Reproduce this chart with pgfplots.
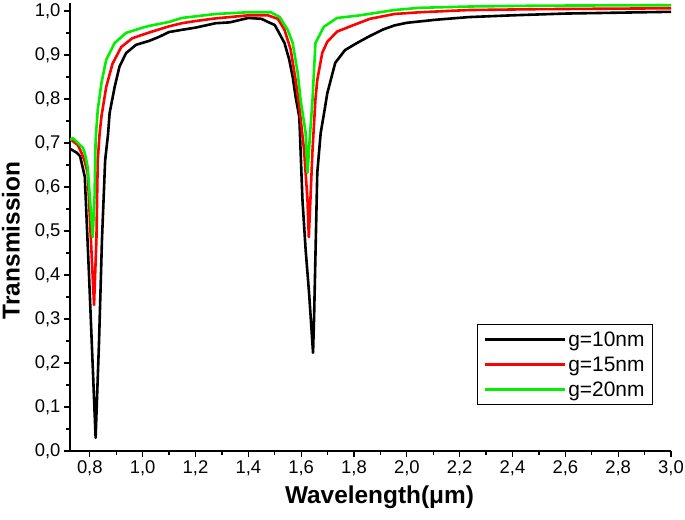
\documentclass[border=0pt]{standalone}
\usepackage{pgfplots}
\pgfplotsset{compat=1.18}
\usepackage{fontspec}
\setmainfont{Liberation Sans}
\definecolor{cgreen}{RGB}{0,240,0}
\definecolor{cred}{RGB}{255,0,0}
\begin{document}
\begin{tikzpicture}
\useasboundingbox (-70bp,-69bp) rectangle (615bp,451bp);
\begin{axis}[
  scale only axis,
  width=601bp, height=448bp,
  xmin=0.725, xmax=3.0,
  ymin=0, ymax=1.018,
  axis x line=bottom, axis y line=left,
  axis line style={-, line width=1.6bp},
  xtick={0.8,1.0,...,3.01},
  ytick={0,0.1,...,1.01},
  minor x tick num=1, minor y tick num=1,
  tick align=outside,
  major tick length=6bp, minor tick length=3.5bp,
  every tick/.style={line width=1.3bp, black},
  /pgf/number format/.cd, use comma, fixed, fixed zerofill, precision=1, assume math mode=true,
  /pgfplots/.cd,
  tick label style={font=\fontsize{18.5}{21}\selectfont},
  xlabel={\bfseries Wavelength(μm)},
  ylabel={\bfseries Transmission},
  every axis x label/.style={at={(rel axis cs:0.515,0)}, anchor=north, yshift=-31bp,
    font=\fontsize{24.5}{27}\selectfont},
  every axis y label/.style={at={(rel axis cs:0,0.47)}, anchor=center, rotate=90, yshift=59bp,
    font=\fontsize{24.5}{27}\selectfont},
  legend style={at={(rel axis cs:0.97,0.283)}, anchor=north east, draw=black, line width=0.9bp,
    font=\fontsize{21}{24}\selectfont, inner xsep=6bp, inner ysep=5bp, row sep=5bp},
  legend cell align=left,
  legend image code/.code={\draw[#1, line width=2.8bp] (0bp,0bp) -- (80bp,0bp);},
]
\addplot[black, line width=2.6bp, line join=round] coordinates {
(0.727,0.686) (0.75,0.678) (0.763,0.670) (0.769,0.655) (0.781,0.623) (0.797,0.400) (0.822,0.030)
(0.835,0.250) (0.846,0.480) (0.858,0.660) (0.869,0.720) (0.875,0.768) (0.894,0.827) (0.912,0.873)
(0.937,0.904) (0.975,0.923) (1.025,0.932) (1.062,0.941) (1.10,0.952) (1.148,0.957) (1.2,0.962)
(1.276,0.972) (1.33,0.974) (1.4,0.984) (1.45,0.982) (1.474,0.975) (1.50,0.968) (1.512,0.955)
(1.537,0.927) (1.555,0.889) (1.568,0.85) (1.579,0.805) (1.593,0.759) (1.605,0.57) (1.617,0.457)
(1.63,0.359) (1.645,0.223) (1.649,0.305) (1.661,0.632) (1.674,0.723) (1.686,0.765) (1.699,0.813)
(1.729,0.882) (1.766,0.911) (1.811,0.927) (1.86,0.943) (1.911,0.958) (1.953,0.967) (2.0,0.973)
(2.111,0.980) (2.235,0.986) (2.4,0.990) (2.6,0.994) (2.8,0.996) (3.0,0.998)
};
\addlegendentry{g=10nm}
\addplot[cred, line width=2.6bp, line join=round] coordinates {
(0.725,0.709) (0.736,0.704) (0.755,0.695) (0.769,0.677) (0.78,0.66) (0.792,0.632) (0.816,0.332)
(0.825,0.48) (0.83,0.66) (0.837,0.72) (0.844,0.76) (0.862,0.827) (0.886,0.88) (0.919,0.918)
(0.961,0.938) (1.025,0.951) (1.1,0.965) (1.148,0.972) (1.2,0.977) (1.276,0.983) (1.4,0.990)
(1.474,0.990) (1.512,0.982) (1.537,0.957) (1.56,0.913) (1.579,0.843) (1.593,0.782) (1.611,0.684)
(1.624,0.57) (1.629,0.486) (1.635,0.57) (1.643,0.684) (1.654,0.798) (1.661,0.843) (1.68,0.905)
(1.699,0.93) (1.736,0.953) (1.799,0.968) (1.86,0.982) (1.953,0.993) (2.05,0.997) (2.235,1.002)
(2.5,1.004) (3.0,1.006)
};
\addlegendentry{g=15nm}
\addplot[cgreen, line width=2.6bp, line join=round] coordinates {
(0.725,0.707) (0.736,0.711) (0.755,0.700) (0.774,0.689) (0.781,0.677) (0.792,0.645) (0.811,0.486)
(0.818,0.58) (0.822,0.707) (0.83,0.775) (0.844,0.836) (0.862,0.889) (0.894,0.927) (0.937,0.950)
(1.0,0.962) (1.025,0.966) (1.1,0.975) (1.148,0.984) (1.276,0.993) (1.4,0.997) (1.485,0.997)
(1.519,0.986) (1.549,0.957) (1.568,0.927) (1.587,0.859) (1.598,0.798) (1.617,0.723) (1.624,0.632)
(1.634,0.723) (1.643,0.798) (1.654,0.927) (1.686,0.964) (1.736,0.984) (1.823,0.990) (1.953,1.002)
(2.047,1.007) (2.235,1.010) (2.5,1.012) (3.0,1.013)
};
\addlegendentry{g=20nm}
\end{axis}
\end{tikzpicture}
\end{document}
